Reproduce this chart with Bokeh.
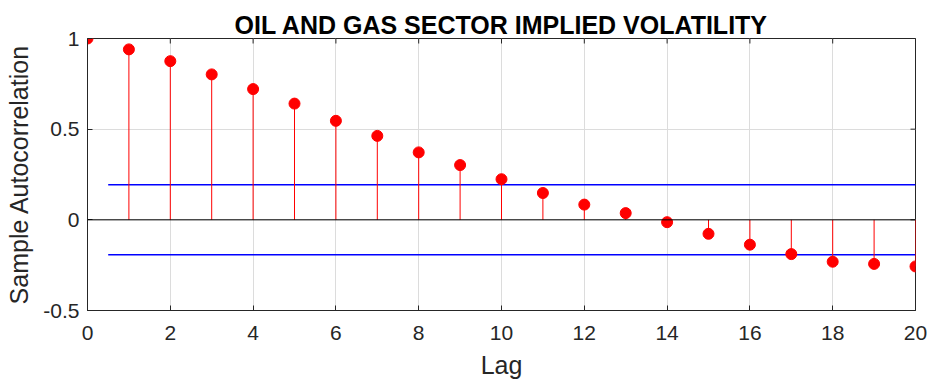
from bokeh.plotting import figure
from bokeh.models import Range1d, FixedTicker, Span
from bokeh.embed import file_html
from bokeh.resources import INLINE

# Sample autocorrelation by lag
lags = list(range(21))
acf = [1.0, 0.94, 0.875, 0.802, 0.721, 0.641, 0.546, 0.463, 0.372, 0.302,
       0.224, 0.148, 0.084, 0.037, -0.013, -0.077, -0.137, -0.189, -0.231,
       -0.243, -0.257]
stem_base = [0.0] * len(lags)

# Approximate 95% confidence bounds, drawn from lag 0.5 onward
conf_bound = 0.193
bound_x = [0.5, 20]

x_ticks = [0, 2, 4, 6, 8, 10, 12, 14, 16, 18, 20]
y_ticks = [-0.5, 0, 0.5, 1]

FONT = "Liberation Sans"
AXIS_GRAY = "#262626"

x_min, x_max = 0, 20
y_min, y_max = -0.5, 1

p = figure(width=930, height=386, output_backend="svg", toolbar_location=None,
           x_range=Range1d(x_min, x_max), y_range=Range1d(y_min, y_max),
           title="OIL AND GAS SECTOR IMPLIED VOLATILITY",
           min_border_left=87, min_border_right=15,
           min_border_top=38, min_border_bottom=76)

p.title.align = "center"
p.title.text_font = FONT
p.title.text_font_size = "25px"
p.title.text_font_style = "bold"
p.title.text_color = "#000000"
p.title.standoff = 0
p.title.offset = 0

p.background_fill_color = "white"
p.border_fill_color = "white"
p.outline_line_color = AXIS_GRAY
p.outline_line_width = 1

for ax in (p.xaxis[0], p.yaxis[0]):
    ax.major_label_text_font = FONT
    ax.major_label_text_font_size = "21px"
    ax.major_label_text_color = AXIS_GRAY
    ax.axis_label_text_font = FONT
    ax.axis_label_text_font_size = "25px"
    ax.axis_label_text_font_style = "normal"
    ax.axis_label_text_color = AXIS_GRAY
    ax.axis_line_color = AXIS_GRAY
    ax.major_tick_line_color = AXIS_GRAY
    ax.major_tick_in = 5
    ax.major_tick_out = 0
    ax.minor_tick_line_color = None

p.xaxis[0].ticker = FixedTicker(ticks=x_ticks)
p.yaxis[0].ticker = FixedTicker(ticks=y_ticks)
p.xaxis[0].major_label_overrides = {t: str(t) for t in x_ticks}
p.yaxis[0].major_label_overrides = {-0.5: "-0.5", 0: "0", 0.5: "0.5", 1: "1"}
p.xaxis[0].axis_label = "Lag"
p.yaxis[0].axis_label = "Sample Autocorrelation"
p.xaxis[0].major_label_standoff = 15
p.yaxis[0].major_label_standoff = 8
p.xaxis[0].axis_label_standoff = 8
p.yaxis[0].axis_label_standoff = 7

p.xgrid.ticker = FixedTicker(ticks=x_ticks)
p.ygrid.ticker = FixedTicker(ticks=y_ticks)
p.grid.grid_line_color = "#dcdcdc"
p.grid.grid_line_width = 1

# Inward tick marks on the top and right edges of the box: dashes centred on
# the edge, so the frame clip leaves only the inner half visible
p.scatter(x_ticks, [y_max] * len(x_ticks), marker="dash", size=10, angle=1.5708,
          line_color=AXIS_GRAY, line_width=1)
p.scatter([x_max] * len(y_ticks), y_ticks, marker="dash", size=10,
          line_color=AXIS_GRAY, line_width=1)

# Confidence bounds
p.line(bound_x, [conf_bound, conf_bound], line_color="#0000ff", line_width=1.5)
p.line(bound_x, [-conf_bound, -conf_bound], line_color="#0000ff", line_width=1.5)

# Zero baseline
p.add_layout(Span(location=0, dimension="width", line_color="#000000", line_width=1))

# Stems and markers
p.segment(x0=lags, y0=stem_base, x1=lags, y1=acf, line_color="#ff0000", line_width=1)
p.scatter(lags, acf, size=11, fill_color="#ff0000", line_color="#ff0000")

open("out.html", "w").write(file_html(p, INLINE))
